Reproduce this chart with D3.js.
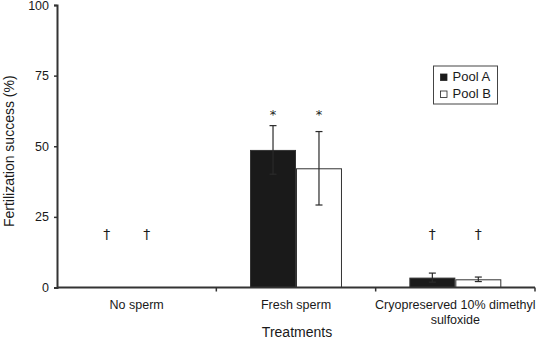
<!DOCTYPE html>
<html><head><meta charset="utf-8">
<script src="https://cdn.jsdelivr.net/npm/d3@7"></script>
<style>
html,body{margin:0;padding:0;background:#fff;}
text{font-family:"Liberation Sans",Arial,Helvetica,sans-serif;fill:#1a1a1a;}
</style></head>
<body><svg id="c" width="538" height="342"></svg>
<script>
const categories = ["No sperm", "Fresh sperm", "Cryopreserved 10% dimethyl sulfoxide"];
const series = ["Pool A", "Pool B"];
const poolA = [0, 48.7, 3.5];
const poolAErr = [0, 8.6, 1.6];
const poolB = [0, 42.2, 2.9];
const poolBErr = [0, 13.0, 0.8];
const yTicks = [0, 25, 50, 75, 100];
// annotation symbols: [categoryIndex, seriesIndex, symbol, yValue]
const annotations = [
  [0, 0, "†", 19], [0, 1, "†", 19],
  [1, 0, "*", 63], [1, 1, "*", 63],
  [2, 0, "†", 19], [2, 1, "†", 19]
];
const colors = ["#1a1a1a", "#ffffff"];

const svg = d3.select("#c");
const m = {l: 57, r: 3, t: 5, b: 54.5};
const W = 538, H = 342;
const x = d3.scaleBand().domain(categories).range([m.l, W - m.r]).paddingInner(0).paddingOuter(0);
const xs = d3.scaleBand().domain(series).range([0, x.bandwidth()]).paddingInner(0).paddingOuter(0.733);
const y = d3.scaleLinear().domain([0, 100]).range([H - m.b, m.t]);

const vals = [poolA, poolB], errs = [poolAErr, poolBErr];
const data = [];
categories.forEach((c, i) => series.forEach((s, j) => data.push({c, s, j, v: vals[j][i], e: errs[j][i]})));

// bars
svg.append("g").selectAll("rect").data(data.filter(d => d.v > 0)).join("rect")
  .attr("x", d => x(d.c) + xs(d.s) + 0.5)
  .attr("y", d => y(d.v) + 0.5)
  .attr("width", xs.bandwidth() - 1)
  .attr("height", d => y(0) - y(d.v) - 0.5)
  .attr("fill", d => colors[d.j])
  .attr("stroke", "#333").attr("stroke-width", 1);

// error bars
const eg = svg.append("g").attr("stroke", "#2a2a2a").attr("stroke-width", 1.2);
data.filter(d => d.e > 0).forEach(d => {
  const cx = x(d.c) + xs(d.s) + xs.bandwidth() / 2;
  eg.append("line").attr("x1", cx).attr("x2", cx).attr("y1", y(d.v + d.e)).attr("y2", y(d.v - d.e));
  [d.v + d.e, d.v - d.e].forEach(v => eg.append("line").attr("x1", cx - 3.5).attr("x2", cx + 3.5).attr("y1", y(v)).attr("y2", y(v)));
});

// annotations
svg.append("g").style("opacity", 0.99).selectAll("text").data(annotations).join("text")
  .attr("x", a => x(categories[a[0]]) + xs(series[a[1]]) + xs.bandwidth() / 2 + (a[0] === 0 ? (a[1] === 0 ? -7 : -13) : 0))
  .attr("y", a => y(a[3]) + (a[2] === "*" ? 9 : 5))
  .attr("text-anchor", "middle")
  .attr("font-size", a => a[2] === "*" ? 13 : 14)
  .style("font-family", "'DejaVu Sans', sans-serif")
  .style("fill", "#1a1a1a")
  .text(a => a[2]);

// y axis
const ya = svg.append("g").attr("transform", `translate(${m.l},0)`)
  .call(d3.axisLeft(y).tickValues(yTicks).tickSize(3).tickPadding(5));
ya.select(".domain").attr("stroke", "#333").attr("stroke-width", 2);
ya.selectAll(".tick line").attr("stroke", "#333").attr("stroke-width", 1.5);
ya.selectAll(".tick text").attr("font-size", 12.5).attr("fill", "#1a1a1a").attr("font-family", "Liberation Sans, Arial, sans-serif");

// x axis
const xa = svg.append("g").attr("transform", `translate(0,${y(0)})`);
xa.append("line").attr("x1", m.l).attr("x2", W - m.r).attr("stroke", "#333").attr("stroke-width", 2);
const bounds = categories.map(c => x(c) + x.bandwidth());
xa.selectAll("line.t").data(bounds).join("line").attr("class", "t")
  .attr("x1", d => d).attr("x2", d => d).attr("y1", 0).attr("y2", 4)
  .attr("stroke", "#333").attr("stroke-width", 1.5);
const labelLines = [["No sperm"], ["Fresh sperm"], ["Cryopreserved 10% dimethyl", "sulfoxide"]];
categories.forEach((c, i) => {
  const t = xa.append("text").attr("x", x(c) + x.bandwidth() / 2).attr("y", 21)
    .attr("text-anchor", "middle").attr("font-size", 12.5);
  labelLines[i].forEach((l, k) => t.append("tspan").attr("x", x(c) + x.bandwidth() / 2).attr("dy", k ? 15 : 0).text(l));
});

// axis titles
svg.append("text").attr("x", (m.l + W - m.r) / 2 + 1).attr("y", 337).attr("text-anchor", "middle")
  .attr("font-size", 14).text("Treatments");
svg.append("text").attr("transform", `translate(14,${(y(0) + y(100)) / 2 + 5}) rotate(-90)`)
  .attr("text-anchor", "middle").attr("font-size", 14).text("Fertilization success (%)");

// legend
const lg = svg.append("g").attr("transform", "translate(433.5,66)");
lg.append("rect").attr("width", 64).attr("height", 38).attr("fill", "#fff").attr("stroke", "#444").attr("stroke-width", 1);
series.forEach((s, j) => {
  lg.append("rect").attr("x", 7).attr("y", 8 + j * 17).attr("width", 6.5).attr("height", 6.5)
    .attr("fill", colors[j]).attr("stroke", "#222").attr("stroke-width", 0.8);
  lg.append("text").attr("x", 19).attr("y", 14.5 + j * 17).attr("font-size", 13).text(s);
});
</script></body></html>
